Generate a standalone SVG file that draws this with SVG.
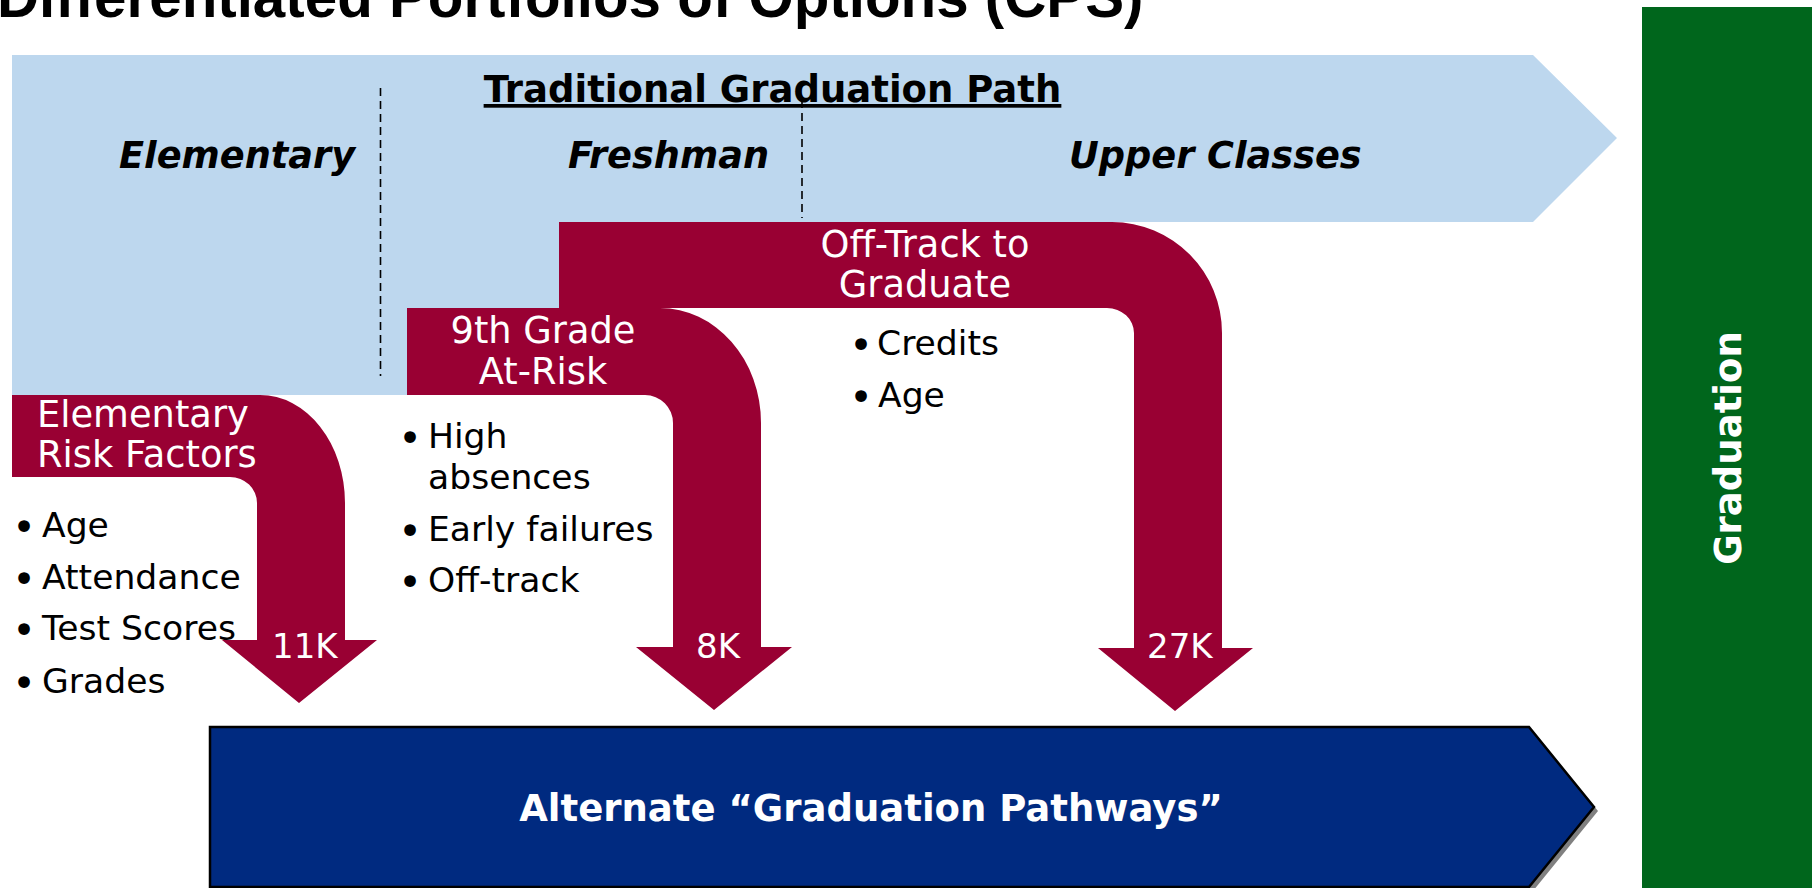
<svg xmlns="http://www.w3.org/2000/svg" width="1812" height="888" viewBox="0 0 1812 888">
<style>
.title{font-family:"Liberation Sans",Arial,sans-serif;font-weight:bold;font-size:58.3px;fill:#000}
.hdr{font-family:"DejaVu Sans",Verdana,sans-serif;font-weight:bold;font-size:37px;fill:#000}
.stage{font-family:"DejaVu Sans",Verdana,sans-serif;font-weight:bold;font-style:italic;font-size:36.7px;fill:#000}
.lbl{font-family:"DejaVu Sans",Verdana,sans-serif;font-size:36.8px;fill:#fff}
.num{font-family:"DejaVu Sans",Verdana,sans-serif;font-size:34px;fill:#fff}
.bul{font-family:"DejaVu Sans",Verdana,sans-serif;font-size:34.6px;fill:#000}
.dot{font-family:"DejaVu Sans",Verdana,sans-serif;font-size:40px;fill:#000;text-anchor:middle}
.wbold{font-family:"DejaVu Sans",Verdana,sans-serif;font-weight:bold;font-size:37px;fill:#fff}
.red{fill:#990033}
.div{stroke:#000;stroke-width:1.6;stroke-dasharray:8 5;fill:none}
</style>
<rect width="1812" height="888" fill="#fff"/>
<g id="title">
<text class="title" x="-3" y="17">Differentiated Portfolios of Options (CPS)</text>
</g>
<g id="traditional-path">
<polygon points="12,55 1533,55 1617,138 1533,222 559,222 559,308 407,308 407,395 12,395" fill="#BDD7EE"/>
<line class="div" x1="380.5" y1="88" x2="380.5" y2="376"/>
<line class="div" x1="802" y1="100" x2="802" y2="218"/>
<text class="hdr" x="772.5" y="102" text-anchor="middle" text-decoration="underline">Traditional Graduation Path</text>
<text class="stage" x="119" y="168">Elementary</text>
<text class="stage" x="568" y="168">Freshman</text>
<text class="stage" x="1069" y="168">Upper Classes</text>
</g>
<g id="connectors">
<g id="elementary-risk">
<path class="red" d="M12,395 H260 A85,108 0 0 1 345,503 V640 H377 L299,703 L222,640 H257 V503 A27,26 0 0 0 230,477 H12 Z"/>
<text class="lbl" x="37" y="427">Elementary</text>
<text class="lbl" x="37" y="467">Risk Factors</text>
<text class="num" x="272" y="658">11K</text>
</g>
<g id="ninth-grade-risk">
<path class="red" d="M407,308 H660 A101,115 0 0 1 761,423 V647 H792 L714,710 L636,647 H673 V423 A28,28 0 0 0 645,395 H407 Z"/>
<text class="lbl" x="543" y="343" text-anchor="middle">9th Grade</text>
<text class="lbl" x="543" y="384" text-anchor="middle">At-Risk</text>
<text class="num" x="718" y="658" text-anchor="middle">8K</text>
</g>
<g id="off-track">
<path class="red" d="M559,222 H1112 A110,111 0 0 1 1222,333 V648 H1253 L1175,711 L1098,648 H1134 V333 A27,25 0 0 0 1107,308 H559 Z"/>
<text class="lbl" x="925" y="257" text-anchor="middle">Off-Track to</text>
<text class="lbl" x="925" y="297" text-anchor="middle">Graduate</text>
<text class="num" x="1147" y="658">27K</text>
</g>
</g>
<g id="elementary-factors">
<text class="dot" x="24" y="541">•</text><text class="bul" x="42" y="537">Age</text>
<text class="dot" x="24" y="593">•</text><text class="bul" x="42" y="589">Attendance</text>
<text class="dot" x="24" y="644">•</text><text class="bul" x="42" y="640">Test Scores</text>
<text class="dot" x="24" y="697">•</text><text class="bul" x="42" y="693">Grades</text>
</g>
<g id="ninth-grade-factors">
<text class="dot" x="410" y="452">•</text><text class="bul" x="428" y="448">High</text>
<text class="bul" x="428" y="489">absences</text>
<text class="dot" x="410" y="545">•</text><text class="bul" x="428" y="541">Early failures</text>
<text class="dot" x="410" y="596">•</text><text class="bul" x="428" y="592">Off-track</text>
</g>
<g id="off-track-factors">
<text class="dot" x="861" y="359">•</text><text class="bul" x="877" y="355">Credits</text>
<text class="dot" x="861" y="411">•</text><text class="bul" x="878" y="407">Age</text>
</g>
<g id="alternate-pathways">
<polygon points="214,731 1533,731 1598,811 1533,891 214,891" fill="#808080"/>
<polygon points="210,727 1529,727 1594,807 1529,887 210,887" fill="#002A80" stroke="#000" stroke-width="2.5"/>
<text class="wbold" x="871" y="821" text-anchor="middle">Alternate “Graduation Pathways”</text>
</g>
<g id="graduation">
<rect x="1642" y="7" width="170" height="881" fill="#00661C"/>
<text class="wbold" transform="translate(1741,448) rotate(-90)" text-anchor="middle">Graduation</text>
</g>
</svg>
